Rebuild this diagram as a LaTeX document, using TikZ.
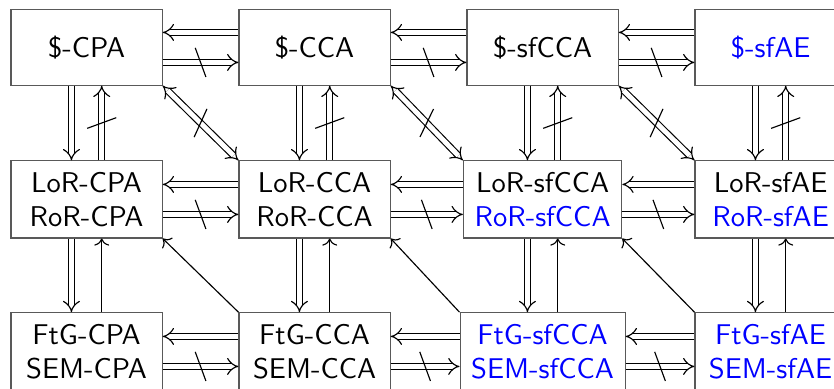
\documentclass[tikz,border=0pt]{standalone}
\usetikzlibrary{arrows.meta,decorations.markings}
\tikzset{
  notion/.style={draw=black!65, font=\sffamily, align=center,
    minimum width=52.9pt, minimum height=26.4pt, inner sep=3.9pt},
  imp/.style={double, double distance=1.7pt, -{Implies}},
  slashed/.style={postaction={decorate}, decoration={markings,
    mark=at position 0.5 with {\draw[-, line width=0.4pt] (-1.87pt,5.1pt) -- (1.87pt,-5.1pt);}}},
  nimp/.style={imp, slashed},
  niff/.style={double, double distance=1.7pt, {Implies}-{Implies}, slashed},
  sto/.style={-{To}},
}
\begin{document}
\begin{tikzpicture}[x=79.8pt, y=53.2pt]
    \useasboundingbox (-30.3pt,16.6pt) rectangle (261.6pt,-119.5pt);
    \clip (-30.3pt,16.6pt) rectangle (261.6pt,-119.5pt);
    % ---- nodes ----
    \node[notion] (dcpa)   at (0,0) {\$-CPA};
    \node[notion] (dcca)   at (1,0) {\$-CCA};
    \node[notion] (dsfcca) at (2,0) {\$-sfCCA};
    \node[notion, text=blue] (dsfae) at (3,0) {\$-sfAE};
    \node[notion] (lcpa)   at (0,-1) {LoR-CPA\\RoR-CPA};
    \node[notion] (lcca)   at (1,-1) {LoR-CCA\\RoR-CCA};
    \node[notion] (lsfcca) at (2,-1) {LoR-sfCCA\\\textcolor{blue}{RoR-sfCCA}};
    \node[notion] (lsfae)  at (3,-1) {LoR-sfAE\\\textcolor{blue}{RoR-sfAE}};
    \node[notion] (fcpa)   at (0,-2) {FtG-CPA\\SEM-CPA};
    \node[notion] (fcca)   at (1,-2) {FtG-CCA\\SEM-CCA};
    \node[notion, text=blue] (fsfcca) at (2,-2) {FtG-sfCCA\\SEM-sfCCA};
    \node[notion, text=blue] (fsfae)  at (3,-2) {FtG-sfAE\\SEM-sfAE};
    % ---- row 1 ----
    \draw[imp]  ([yshift=5.25pt]dcca.west) -- ([yshift=5.25pt]dcpa.east);
    \draw[nimp] ([yshift=-5.25pt]dcpa.east) -- ([yshift=-5.25pt]dcca.west);
    \draw[imp]  ([yshift=5.25pt]dsfcca.west) -- ([yshift=5.25pt]dcca.east);
    \draw[nimp] ([yshift=-5.25pt]dcca.east) -- ([yshift=-5.25pt]dsfcca.west);
    \draw[imp]  ([yshift=5.25pt]dsfae.west) -- ([yshift=5.25pt]dsfcca.east);
    \draw[nimp] ([yshift=-5.25pt]dsfcca.east) -- ([yshift=-5.25pt]dsfae.west);
    % ---- row 2 ----
    \draw[imp]  ([yshift=5.25pt]lcca.west) -- ([yshift=5.25pt]lcpa.east);
    \draw[nimp] ([yshift=-5.25pt]lcpa.east) -- ([yshift=-5.25pt]lcca.west);
    \draw[imp]  ([yshift=5.25pt]lsfcca.west) -- ([yshift=5.25pt]lcca.east);
    \draw[nimp] ([yshift=-5.25pt]lcca.east) -- ([yshift=-5.25pt]lsfcca.west);
    \draw[imp]  ([yshift=5.25pt]lsfae.west) -- ([yshift=5.25pt]lsfcca.east);
    \draw[nimp] ([yshift=-5.25pt]lsfcca.east) -- ([yshift=-5.25pt]lsfae.west);
    % ---- row 3 ----
    \draw[imp]  ([yshift=5.25pt]fcca.west) -- ([yshift=5.25pt]fcpa.east);
    \draw[nimp] ([yshift=-5.25pt]fcpa.east) -- ([yshift=-5.25pt]fcca.west);
    \draw[imp]  ([yshift=5.25pt]fsfcca.west) -- ([yshift=5.25pt]fcca.east);
    \draw[nimp] ([yshift=-5.25pt]fcca.east) -- ([yshift=-5.25pt]fsfcca.west);
    \draw[imp]  ([yshift=5.25pt]fsfae.west) -- ([yshift=5.25pt]fsfcca.east);
    \draw[nimp] ([yshift=-5.25pt]fsfcca.east) -- ([yshift=-5.25pt]fsfae.west);
    % ---- row 1 to row 2 ----
    \draw[imp]  ([xshift=-5.3pt]dcpa.south) -- ([xshift=-5.3pt]lcpa.north);
    \draw[nimp] ([xshift=5.3pt]lcpa.north) -- ([xshift=5.3pt]dcpa.south);
    \draw[imp]  ([xshift=-5.3pt]dcca.south) -- ([xshift=-5.3pt]lcca.north);
    \draw[nimp] ([xshift=5.3pt]lcca.north) -- ([xshift=5.3pt]dcca.south);
    \draw[imp]  ([xshift=-5.3pt]dsfcca.south) -- ([xshift=-5.3pt]lsfcca.north);
    \draw[nimp] ([xshift=5.3pt]lsfcca.north) -- ([xshift=5.3pt]dsfcca.south);
    \draw[imp]  ([xshift=-5.3pt]dsfae.south) -- ([xshift=-5.3pt]lsfae.north);
    \draw[nimp] ([xshift=5.3pt]lsfae.north) -- ([xshift=5.3pt]dsfae.south);
    \draw[niff] (dcpa.south east) -- (lcca.north west);
    \draw[niff] (dcca.south east) -- (lsfcca.north west);
    \draw[niff] (dsfcca.south east) -- (lsfae.north west);
    % ---- row 2 to row 3 ----
    \draw[imp] ([xshift=-5.3pt]lcpa.south) -- ([xshift=-5.3pt]fcpa.north);
    \draw[sto] ([xshift=5.3pt]fcpa.north) -- ([xshift=5.3pt]lcpa.south);
    \draw[imp] ([xshift=-5.3pt]lcca.south) -- ([xshift=-5.3pt]fcca.north);
    \draw[sto] ([xshift=5.3pt]fcca.north) -- ([xshift=5.3pt]lcca.south);
    \draw[imp] ([xshift=-5.3pt]lsfcca.south) -- ([xshift=-5.3pt]fsfcca.north);
    \draw[sto] ([xshift=5.3pt]fsfcca.north) -- ([xshift=5.3pt]lsfcca.south);
    \draw[imp] ([xshift=-5.3pt]lsfae.south) -- ([xshift=-5.3pt]fsfae.north);
    \draw[sto] ([xshift=5.3pt]fsfae.north) -- ([xshift=5.3pt]lsfae.south);
    \draw[sto] (fcca.north west) -- (lcpa.south east);
    \draw[sto] (fsfcca.north west) -- (lcca.south east);
    \draw[sto] (fsfae.north west) -- (lsfcca.south east);
\end{tikzpicture}
\end{document}
